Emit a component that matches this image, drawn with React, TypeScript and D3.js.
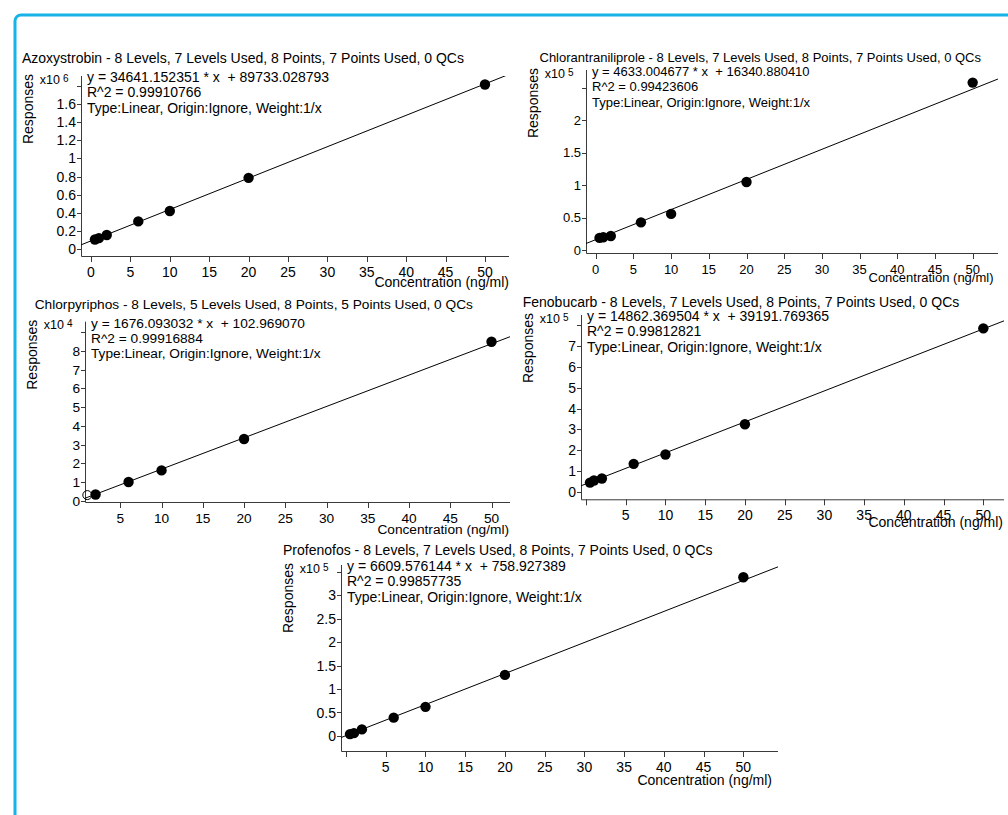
import React from 'react';
import * as d3 from 'd3';

const FONT = '"Liberation Sans", Arial, Helvetica, sans-serif';
const BORDER = '#17b3e6';
const AXIS = '#3a3a3a';

// concentration levels (ng/ml)
const CONC = [0.5, 1, 2, 6, 10, 20, 50];
const X_TICKS = [0, 5, 10, 15, 20, 25, 30, 35, 40, 45, 50];

// responses, in units of the panel multiplier (x10^n)
const AZOXY_RESP = [0.105, 0.12, 0.155, 0.305, 0.42, 0.785, 1.815];
const CHLORAN_RESP = [0.19, 0.2, 0.22, 0.43, 0.56, 1.05, 2.58];
const CHLORPY_CONC = [2, 6, 10, 20, 50];
const CHLORPY_RESP = [0.33, 1.0, 1.62, 3.3, 8.5];
const CHLORPY_EXCL_CONC = [1];
const CHLORPY_EXCL_RESP = [0.3];
const FENO_RESP = [0.45, 0.55, 0.65, 1.35, 1.8, 3.25, 7.85];
const PROF_RESP = [0.04, 0.06, 0.14, 0.39, 0.62, 1.3, 3.38];

const AZOXY_YTICKS = [0, 0.2, 0.4, 0.6, 0.8, 1, 1.2, 1.4, 1.6, 1.8];
const CHLORAN_YTICKS = [0, 0.5, 1, 1.5, 2, 2.5];
const CHLORPY_YTICKS = [0, 1, 2, 3, 4, 5, 6, 7, 8, 9];
const FENO_YTICKS = [0, 1, 2, 3, 4, 5, 6, 7, 8];
const PROF_YTICKS = [0, 0.5, 1, 1.5, 2, 2.5, 3, 3.5];

const PANELS = [
  {
    title: 'Azoxystrobin - 8 Levels, 7 Levels Used, 8 Points, 7 Points Used, 0 QCs',
    exp: 6, slope: 34641.152351, intercept: 89733.028793, r2: '0.99910766',
    conc: CONC, resp: AZOXY_RESP, exConc: [], exResp: [], yTicks: AZOXY_YTICKS, showZeroX: true,
  },
  {
    title: 'Chlorantraniliprole - 8 Levels, 7 Levels Used, 8 Points, 7 Points Used, 0 QCs',
    exp: 5, slope: 4633.004677, intercept: 16340.88041, r2: '0.99423606',
    conc: CONC, resp: CHLORAN_RESP, exConc: [], exResp: [], yTicks: CHLORAN_YTICKS, showZeroX: true,
  },
  {
    title: 'Chlorpyriphos - 8 Levels, 5 Levels Used, 8 Points, 5 Points Used, 0 QCs',
    exp: 4, slope: 1676.093032, intercept: 102.96907, r2: '0.99916884',
    conc: CHLORPY_CONC, resp: CHLORPY_RESP, exConc: CHLORPY_EXCL_CONC, exResp: CHLORPY_EXCL_RESP,
    yTicks: CHLORPY_YTICKS, showZeroX: false,
  },
  {
    title: 'Fenobucarb - 8 Levels, 7 Levels Used, 8 Points, 7 Points Used, 0 QCs',
    exp: 5, slope: 14862.369504, intercept: 39191.769365, r2: '0.99812821',
    conc: CONC, resp: FENO_RESP, exConc: [], exResp: [], yTicks: FENO_YTICKS, showZeroX: false,
  },
  {
    title: 'Profenofos - 8 Levels, 7 Levels Used, 8 Points, 7 Points Used, 0 QCs',
    exp: 5, slope: 6609.576144, intercept: 758.927389, r2: '0.99857735',
    conc: CONC, resp: PROF_RESP, exConc: [], exResp: [], yTicks: PROF_YTICKS, showZeroX: false,
  },
];

// plot frames: axis box in pixels, visible domains, text size and label offsets
const LAYOUTS = [
  { left: 81, right: 509, top: 76, bottom: 256, xDom: [-1.27, 53.05], yDom: [-0.077, 1.909], tx: 22, ty: 62.5, fs: 14, cdx: 0, cdy: 31 },
  { left: 586, right: 998, top: 70, bottom: 253, xDom: [-1.29, 53.36], yDom: [-0.042, 2.774], tx: 539.5, ty: 61.7, fs: 13, cdx: -4.5, cdy: 28.7 },
  { left: 85, right: 510, top: 321.7, bottom: 502, xDom: [0.72, 52.24], yDom: [-0.07, 9.57], tx: 34.7, ty: 309.3, fs: 13.7, cdx: -1, cdy: 32 },
  { left: 581, right: 1004, top: 315, bottom: 499.3, xDom: [-0.63, 52.6], yDom: [-0.35, 8.49], tx: 522.7, ty: 306.7, fs: 14, cdx: -1, cdy: 28 },
  { left: 341, right: 778, top: 565, bottom: 751, xDom: [-0.63, 54.36], yDom: [-0.32, 3.64], tx: 283, ty: 555, fs: 14, cdx: -6, cdy: 34 },
];

function fmt(v: number) {
  return String(+v.toFixed(2));
}

function Panel({ p, l, idx }: { p: any; l: any; idx: number }) {
  const x = d3.scaleLinear().domain(l.xDom).range([l.left, l.right]);
  const y = d3.scaleLinear().domain(l.yDom).range([l.bottom, l.top]);
  const mult = Math.pow(10, p.exp);
  const fit = (c: number) => (p.slope * c + p.intercept) / mult;
  const line = d3.line<number>().x(c => x(c)).y(c => y(fit(c)));
  const xt = X_TICKS.filter(t => t >= l.xDom[0] && t <= l.xDom[1]);
  const topTick = p.yTicks[p.yTicks.length - 1];
  const clipId = `clip-${idx}`;
  const fs = l.fs;
  const eq = [
    `y = ${p.slope.toFixed(6)} * x  + ${p.intercept.toFixed(6)}`,
    `R^2 = ${p.r2}`,
    'Type:Linear, Origin:Ignore, Weight:1/x',
  ];
  return (
    <g>
      <defs>
        <clipPath id={clipId}>
          <rect x={l.left} y={l.top} width={l.right - l.left} height={l.bottom - l.top} />
        </clipPath>
      </defs>
      <text x={l.tx} y={l.ty} fontSize={fs}>{p.title}</text>

      {/* axes */}
      <path d={`M${l.left + 0.5},${l.top}V${l.bottom + 0.5}H${l.right}`} fill="none" stroke={AXIS} strokeWidth={1} />
      {p.yTicks.map((t: number) => (
        <g key={`y${t}`}>
          <line x1={l.left - 4} x2={l.left} y1={Math.round(y(t)) + 0.5} y2={Math.round(y(t)) + 0.5} stroke={AXIS} />
          {t !== topTick && (
            <text x={l.left - 5} y={y(t)} dy="0.36em" textAnchor="end" fontSize={fs}>{fmt(t)}</text>
          )}
        </g>
      ))}
      {xt.map(t => (
        <g key={`x${t}`}>
          <line x1={Math.round(x(t)) + 0.5} x2={Math.round(x(t)) + 0.5} y1={l.bottom} y2={l.bottom + 6} stroke={AXIS} />
          {(t !== 0 || p.showZeroX) && (
            <text x={x(t)} y={l.bottom + 20.5} textAnchor="middle" fontSize={fs}>{t}</text>
          )}
        </g>
      ))}
      <text x={l.right + l.cdx} y={l.bottom + l.cdy} textAnchor="end" fontSize={fs}>Concentration (ng/ml)</text>
      <text transform={`translate(${l.left - 48},${l.top - 2}) rotate(-90)`} textAnchor="end" fontSize={14}>Responses</text>
      <text x={l.left - 21} y={l.top + 7.5} textAnchor="end" fontSize={12.5}>x10</text>
      <text x={l.left - 18} y={l.top + 5.5} fontSize={10}>{p.exp}</text>

      {/* equation */}
      {eq.map((s, i) => (
        <text key={i} x={l.left + 6} y={l.top + 6 + i * 15.3} fontSize={fs} style={{ whiteSpace: 'pre' }}>{s}</text>
      ))}

      {/* fit line */}
      <path d={line(l.xDom) || ''} fill="none" stroke="#000" strokeWidth={1} clipPath={`url(#${clipId})`} />

      {/* excluded points */}
      {p.exConc.map((c: number, i: number) => (
        <circle key={`e${i}`} cx={x(c)} cy={y(p.exResp[i])} r={4.5} fill="none" stroke="#000" strokeWidth={1} />
      ))}
      {/* used points */}
      {p.conc.map((c: number, i: number) => (
        <circle key={`p${i}`} cx={x(c)} cy={y(p.resp[i])} r={5.2} fill="#000" />
      ))}
    </g>
  );
}

export default function App() {
  return (
    <svg
      width={1008}
      height={815}
      style={{ position: 'absolute', left: 0, top: 0, background: '#fff', fontFamily: FONT }}
    >
      <rect x={0} y={0} width={1008} height={815} fill="#fff" />
      <rect x={15} y={15} width={1100} height={1000} rx={6} fill="none" stroke={BORDER} strokeWidth={3} />
      {PANELS.map((p, i) => (
        <Panel key={i} p={p} l={LAYOUTS[i]} idx={i} />
      ))}
    </svg>
  );
}
